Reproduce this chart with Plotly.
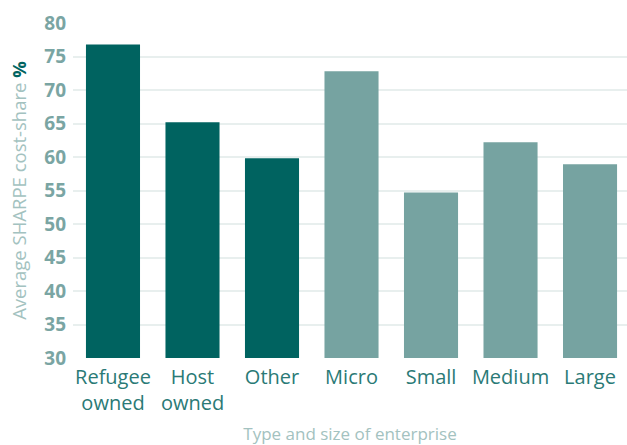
import plotly.graph_objects as go

categories = ["Refugee<br>owned", "Host<br>owned", "Other", "Micro", "Small", "Medium", "Large"]
values = [76.8, 65.2, 59.8, 72.8, 54.7, 62.2, 58.9]
groups = ["type", "type", "type", "size", "size", "size", "size"]
y_ticks = [30, 35, 40, 45, 50, 55, 60, 65, 70, 75, 80]

DARK = "#006360"
LIGHT = "#76A3A1"
colors = [DARK if g == "type" else LIGHT for g in groups]
x_idx = list(range(len(categories)))

fig = go.Figure(go.Bar(x=x_idx, y=values, marker=dict(color=colors, line=dict(width=0)),
                       width=0.68, hoverinfo="skip"))

FONT = "Open Sans"
fig.update_layout(
    width=627, height=445,
    margin=dict(l=73, r=0, t=23, b=87),
    plot_bgcolor="white", paper_bgcolor="white",
    showlegend=False,
    font=dict(family=FONT),
    xaxis=dict(
        tickmode="array", tickvals=x_idx, ticktext=categories,
        range=[-0.503, 6.465], automargin=False,
        showgrid=False, zeroline=False, showline=False, ticks="",
        ticklabelstandoff=5,
        tickfont=dict(size=20, color="#2A7A76", family=FONT),
        title=dict(text="Type and size of enterprise", font=dict(size=17, color="#A3C2C0"), standoff=23),
    ),
    yaxis=dict(
        range=[30, 80], tickvals=y_ticks, automargin=False,
        showgrid=True, gridcolor="#E8EFEE", gridwidth=2,
        zeroline=False, showline=False, ticks="",
        ticklabelstandoff=6,
        tickfont=dict(size=19, color="#7AA5A3", family=FONT, weight="bold"),
        title=dict(text="Average SHARPE cost-share <span style='color:#006360'><b>%</b></span>",
                   font=dict(size=18.5, color="#A3C2C0"), standoff=12),
    ),
)

fig.write_html("out.html")
